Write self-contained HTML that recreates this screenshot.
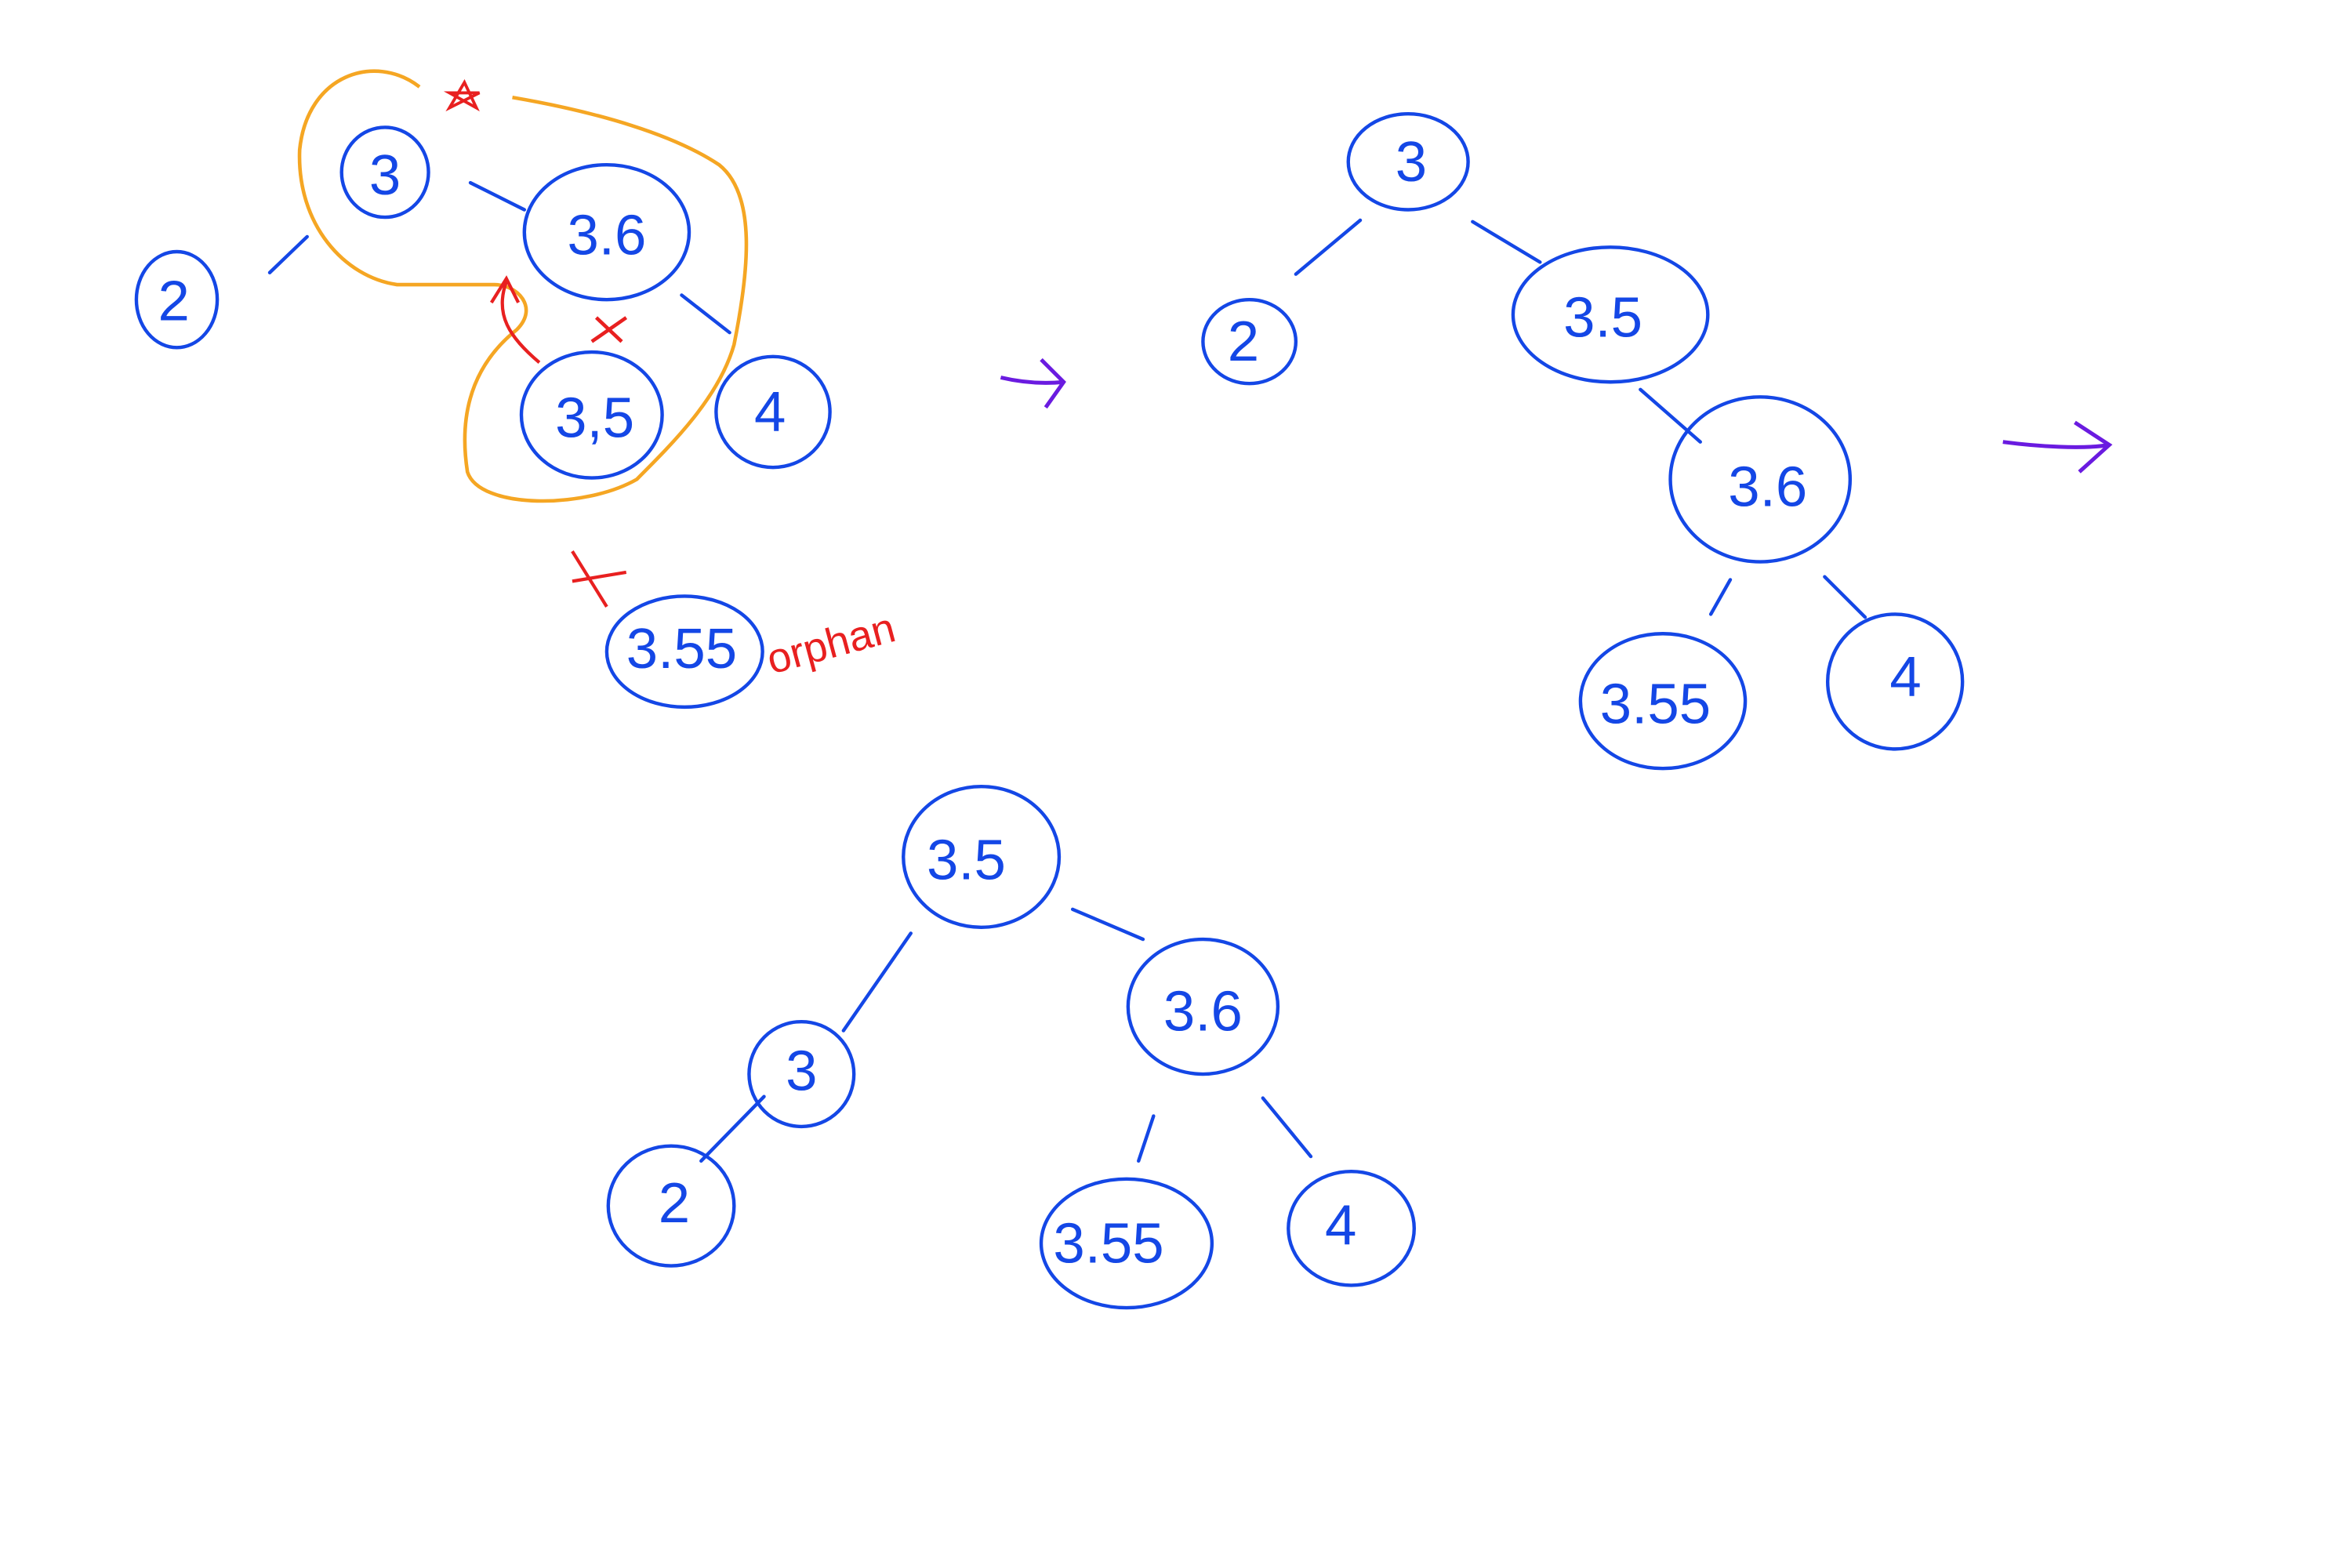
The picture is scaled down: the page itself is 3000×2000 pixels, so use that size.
<!DOCTYPE html>
<html><head><meta charset="utf-8"><style>
html,body{margin:0;padding:0;background:#fff;width:3000px;height:2000px;overflow:hidden}
svg{display:block}
.n{fill:none;stroke:#1447e6;stroke-width:2.3;stroke-linecap:round}
.t{fill:#1447e6;font-family:"Liberation Sans",sans-serif;font-size:38px;font-weight:300;text-anchor:middle;dominant-baseline:central}
</style></head><body>
<svg width="3000" height="2000" viewBox="0 0 1570 1046.7" xmlns="http://www.w3.org/2000/svg">
<rect width="1570" height="1047" fill="#fff"/>
<g>
<path d="M280,58 C250,35 205,50 200,100 C198,150 230,185 265,190 L330,190 C345,190 360,205 345,220 C320,240 305,270 312,315 C320,340 390,340 425,320 C450,295 480,265 490,230 C500,180 505,130 480,110 C450,90 400,75 342,65" fill="none" stroke="#f5a623" stroke-width="2.4"/>
<ellipse class="n" cx="118" cy="200" rx="27" ry="32"/><text class="t" x="116" y="201">2</text>
<line class="n" x1="180" y1="182" x2="205" y2="158"/>
<ellipse class="n" cx="257" cy="115" rx="29" ry="30"/><text class="t" x="257" y="117">3</text>
<line class="n" x1="314" y1="122" x2="350" y2="140"/>
<ellipse class="n" cx="405" cy="155" rx="55" ry="45"/><text class="t" x="405" y="157">3.6</text>
<line class="n" x1="455" y1="197" x2="487" y2="222"/>
<ellipse class="n" cx="395" cy="277" rx="47" ry="42"/><text class="t" x="397" y="279">3,5</text>
<ellipse class="n" cx="516" cy="275" rx="38" ry="37"/><text class="t" x="514" y="275">4</text>
<path d="M300,72 L310,55 L318,72 L300,62 L320,62 Z" fill="none" stroke="#e82020" stroke-width="2"/>
<path d="M395,228 L418,212 M398,212 L415,228" stroke="#e82020" stroke-width="2.4" fill="none"/>
<path d="M360,242 C340,225 330,210 338,188 M328,202 L338,186 L346,202" stroke="#e82020" stroke-width="2.2" fill="none"/>
<path d="M382,368 L405,405 M382,388 L418,382" stroke="#e82020" stroke-width="2.2" fill="none"/>
<ellipse class="n" cx="457" cy="435" rx="52" ry="37"/><text class="t" x="455" y="433">3.55</text>
<text x="515" y="450" transform="rotate(-15 515 450)" fill="#e82020" font-family="Liberation Sans,sans-serif" font-size="28">orphan</text>
<path d="M668,252 C685,256 700,256 710,255 M695,240 L710,255 L698,272" stroke="#6a1be0" stroke-width="2.6" fill="none"/>
</g>
<g>
<ellipse class="n" cx="940" cy="108" rx="40" ry="32"/><text class="t" x="942" y="108">3</text>
<line class="n" x1="908" y1="147" x2="865" y2="183"/>
<line class="n" x1="983" y1="148" x2="1028" y2="175"/>
<ellipse class="n" cx="834" cy="228" rx="31" ry="28"/><text class="t" x="830" y="228">2</text>
<ellipse class="n" cx="1075" cy="210" rx="65" ry="45"/><text class="t" x="1070" y="212">3.5</text>
<line class="n" x1="1095" y1="260" x2="1135" y2="295"/>
<ellipse class="n" cx="1175" cy="320" rx="60" ry="55"/><text class="t" x="1180" y="325">3.6</text>
<line class="n" x1="1155" y1="387" x2="1142" y2="410"/>
<line class="n" x1="1218" y1="385" x2="1245" y2="412"/>
<ellipse class="n" cx="1110" cy="468" rx="55" ry="45"/><text class="t" x="1105" y="470">3.55</text>
<ellipse class="n" cx="1265" cy="455" rx="45" ry="45"/><text class="t" x="1272" y="452">4</text>
<path d="M1337,295 C1360,298 1390,300 1408,297 M1385,282 L1408,297 L1388,315" stroke="#6a1be0" stroke-width="2.6" fill="none"/>
</g>
<g>
<ellipse class="n" cx="655" cy="572" rx="52" ry="47"/><text class="t" x="645" y="574">3.5</text>
<line class="n" x1="608" y1="623" x2="563" y2="688"/>
<line class="n" x1="716" y1="607" x2="763" y2="627"/>
<ellipse class="n" cx="535" cy="717" rx="35" ry="35"/><text class="t" x="535" y="715">3</text>
<line class="n" x1="510" y1="732" x2="468" y2="775"/>
<ellipse class="n" cx="448" cy="805" rx="42" ry="40"/><text class="t" x="450" y="803">2</text>
<ellipse class="n" cx="803" cy="672" rx="50" ry="45"/><text class="t" x="803" y="675">3.6</text>
<line class="n" x1="770" y1="745" x2="760" y2="775"/>
<line class="n" x1="843" y1="733" x2="875" y2="772"/>
<ellipse class="n" cx="752" cy="830" rx="57" ry="43"/><text class="t" x="740" y="830">3.55</text>
<ellipse class="n" cx="902" cy="820" rx="42" ry="38"/><text class="t" x="895" y="818">4</text>
</g>
</svg>
</body></html>
